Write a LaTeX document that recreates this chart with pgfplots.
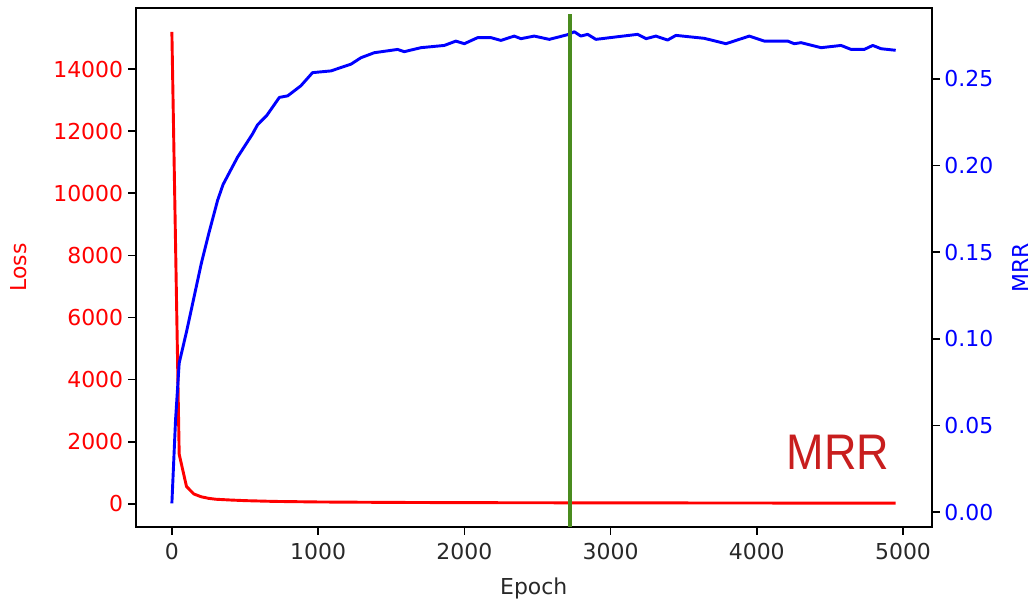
\documentclass[border=0pt]{standalone}
\usepackage{pgfplots}
\pgfplotsset{compat=1.18}
\usepackage{fontspec}
\setmainfont{DejaVu Sans}
\newfontfamily\arialfont{Liberation Sans}
\definecolor{mgreen}{RGB}{74,140,30}
\definecolor{annred}{RGB}{200,30,30}
\definecolor{txtgray}{RGB}{40,40,40}

\pgfplotstableread{
epoch loss
0 15200
50 1600
100 560
150 320
200 230
250 180
300 150
400 125
500 105
700 80
1000 62
1500 48
2000 40
3000 33
4000 28
4950 25
}\losstable

\pgfplotstableread{
epoch mrr
0 0.005
25 0.053
50 0.086
100 0.104
136 0.118
200 0.143
250 0.160
313 0.180
350 0.189
400 0.197
449 0.2048
550 0.218
586 0.2235
650 0.229
735 0.2393
792 0.2402
882 0.246
962 0.2536
1088 0.2546
1225 0.2585
1293 0.2622
1384 0.2651
1544 0.267
1589 0.2657
1703 0.268
1863 0.2693
1942 0.2718
2000 0.2703
2091 0.2738
2182 0.2738
2250 0.2722
2341 0.2747
2387 0.2732
2478 0.2747
2581 0.2728
2706 0.2755
2752 0.2772
2797 0.2747
2843 0.2757
2900 0.2728
3026 0.2741
3185 0.2757
3243 0.2732
3310 0.2747
3390 0.2724
3447 0.2751
3641 0.2734
3789 0.2703
3949 0.2747
4052 0.2718
4212 0.2718
4256 0.2703
4303 0.2709
4440 0.2680
4576 0.2693
4645 0.2670
4735 0.2670
4793 0.2693
4850 0.2674
4950 0.2665
}\mrrtable

\pgfplotsset{
  mystyle/.style={
    scale only axis, width=573.3pt, height=373.5pt,
    at={(0pt,0pt)}, anchor=south west,
    xmin=-247.5, xmax=5197.5,
    tick align=outside, major tick length=5.5pt,
    axis line style={line width=1.2pt, black},
    every tick/.style={black, line width=1.2pt},
    tick label style={font=\fontsize{15.8}{19}\selectfont},
    label style={font=\fontsize{15.8}{19}\selectfont},
    /pgf/number format/assume math mode=true,
    /pgf/number format/1000 sep={},
    scaled ticks=false,
  }
}

\begin{document}
\begin{tikzpicture}
\useasboundingbox (-97.7pt,-54pt) rectangle (646.1pt,379.4pt);
\begin{axis}[mystyle,
  ymin=-741, ymax=15960,
  xtick={0,1000,2000,3000,4000,5000},
  ytick={0,2000,4000,6000,8000,10000,12000,14000},
  xtick pos=bottom, ytick pos=left,
  x tick label style={text=txtgray, yshift=-3pt},
  y tick label style={text=red},
  xlabel={Epoch}, xlabel style={text=txtgray}, xlabel shift=6pt,
  ylabel={Loss}, ylabel style={text=red}, ylabel shift=12pt,
]
\addplot[red, line width=2.1pt, line join=round] table[x=epoch,y=loss]{\losstable};
\end{axis}
\begin{axis}[mystyle,
  ymin=-0.0086, ymax=0.2908,
  axis x line=none, axis y line*=right,
  ytick={0,0.05,0.10,0.15,0.20,0.25},
  y tick label style={text=blue, /pgf/number format/.cd, fixed, fixed zerofill, precision=2},
  ylabel={MRR}, ylabel style={text=blue}, ylabel shift=7pt,
]
\addplot[blue, line width=2.1pt, line join=round] table[x=epoch,y=mrr]{\mrrtable};
\addplot[mgreen, line width=2.8pt] coordinates {(2722,-0.0086) (2722,0.2874)};
\node[text=annred, font=\arialfont\fontsize{36}{40}\selectfont, xscale=0.9, inner sep=0pt, anchor=center] at (axis cs:4555,0.0345) {MRR};
\end{axis}
\end{tikzpicture}
\end{document}
